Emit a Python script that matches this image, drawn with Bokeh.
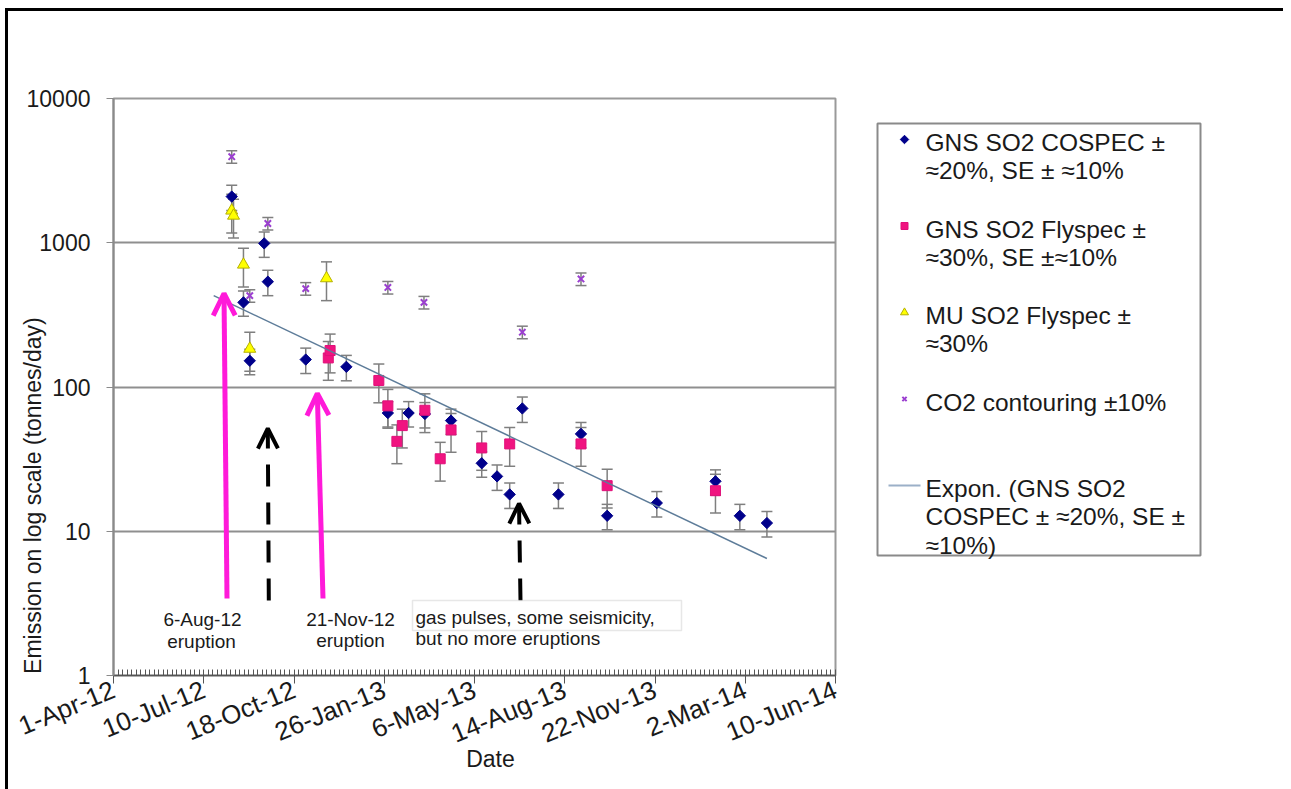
import math
import numpy as np
import pandas as pd
from bokeh.plotting import figure
from bokeh.layouts import row
from bokeh.models import (ColumnDataSource, Whisker, TeeHead, FixedTicker, Range1d,
                          Label, Arrow, OpenHead, BoxAnnotation)
from bokeh.core.properties import value
from bokeh.embed import file_html
from bokeh.resources import INLINE

# ---------------- data ----------------
BASE_DATE = "2012-04-01"

cospec_dates = ["2012-08-10", "2012-08-23", "2012-08-30", "2012-09-15", "2012-09-19", "2012-10-31",
                "2012-12-15", "2013-01-30", "2013-02-22", "2013-03-12", "2013-04-10", "2013-05-14",
                "2013-05-31", "2013-06-14", "2013-06-28", "2013-08-07", "2013-09-01", "2013-09-30",
                "2013-11-24", "2014-01-28", "2014-02-24", "2014-03-26"]
cospec_values = [2090, 386, 152, 990, 537, 155, 138, 66, 66, 65, 58.5, 29.6,
                 24, 18, 71, 18, 47.3, 12.8, 15.7, 22.2, 12.8, 11.4]

flyspec_dates = ["2012-11-25", "2012-11-27", "2013-01-20", "2013-01-30", "2013-02-09", "2013-02-15",
                 "2013-03-12", "2013-03-29", "2013-04-10", "2013-05-14", "2013-06-14", "2013-09-01",
                 "2013-09-30", "2014-01-28"]
flyspec_values = [159, 179, 111, 74, 42, 54, 69, 31.8, 50.4, 37.8, 40.3, 40.3, 20.7, 19.1]

mu_dates = ["2012-08-10", "2012-08-12", "2012-08-23", "2012-08-30", "2012-11-23"]
mu_values = [1670, 1540, 705, 184, 567]

co2_dates = ["2012-08-10", "2012-08-30", "2012-09-19", "2012-10-31", "2013-01-30", "2013-03-11",
             "2013-06-28", "2013-09-01"]
co2_values = [3950, 430, 1360, 481, 490, 386, 240, 561]

trend_dates = ["2012-07-21", "2014-03-26"]
trend_values = [430, 6.47]

cospec_err = 0.20
flyspec_err = 0.30
mu_err = 0.30
co2_err = 0.10

x_tick_labels = ["1-Apr-12", "10-Jul-12", "18-Oct-12", "26-Jan-13", "6-May-13",
                 "14-Aug-13", "22-Nov-13", "2-Mar-14", "10-Jun-14"]
y_ticks = [1, 10, 100, 1000, 10000]
y_tick_labels = ["1", "10", "100", "1000", "10000"]

x_title = "Date"
y_title = "Emission on log scale (tonnes/day)"

legend_lines = [
    ["GNS SO2 COSPEC \u00b1", "\u224820%, SE \u00b1 \u224810%"],
    ["GNS SO2 Flyspec \u00b1", "\u224830%, SE  \u00b1\u224810%"],
    ["MU SO2 Flyspec  \u00b1", "\u224830%"],
    ["CO2 contouring \u00b110%"],
    ["Expon. (GNS SO2", "COSPEC \u00b1 \u224820%, SE \u00b1", "\u224810%)"],
]

# ---------------- helpers ----------------
base = pd.Timestamp(BASE_DATE)


def to_days(dates):
    return np.array([(pd.Timestamp(d) - base).days for d in dates], dtype=float)


X_SPAN = 800
x_tick_days = list(range(0, X_SPAN + 1, 100))

# page-pixel geometry (used only to place annotations)
CANVAS_X, CANVAS_Y = 8, 11
FL, FR, FT, FB = 113, 835, 98, 675
TOTAL_H = 778
MAIN_W = 837
LEG_W = 438
BORDER_TOP = FT - CANVAS_Y
BORDER_BOTTOM = TOTAL_H - (FB - CANVAS_Y)
NBSP = "\u00a0"


def dx(px):
    return (px - FL) / (FR - FL) * X_SPAN


def dy(py):
    return 10 ** ((FB - py) / (FB - FT) * 4)


FONT = "Liberation Sans"
TXT = "#1a1a1a"
GREY = "#7f7f7f"

p = figure(output_backend="svg", toolbar_location=None, y_axis_type="log",
           x_range=(0, X_SPAN), y_range=(1, 10000),
           frame_width=FR - FL, frame_height=FB - FT,
           min_border_left=FL - CANVAS_X, min_border_top=BORDER_TOP,
           min_border_right=MAIN_W - (FR - CANVAS_X), min_border_bottom=BORDER_BOTTOM,
           background_fill_color="white", border_fill_color="white")

p.outline_line_color = "#9a9a9a"
p.outline_line_width = 2
p.xgrid.grid_line_color = None
p.ygrid.ticker = FixedTicker(ticks=y_ticks)
p.ygrid.grid_line_color = "#8f8f8f"
p.ygrid.grid_line_width = 2

# x axis
xa = p.xaxis[0]
xa.ticker = FixedTicker(ticks=x_tick_days, minor_ticks=list(range(0, X_SPAN + 1, 5)))
xa.major_label_overrides = {d: lab for d, lab in zip(x_tick_days, x_tick_labels)}
xa.major_label_orientation = 0.39
# leading no-break spaces nudge the centred title a little to the right, as in the reference
xa.axis_label = NBSP * 5 + x_title
xa.axis_label_text_font = FONT
xa.axis_label_text_font_style = "normal"
xa.axis_label_text_font_size = "23px"
xa.axis_label_text_color = TXT
xa.axis_label_standoff = -19
xa.major_label_text_font = FONT
xa.major_label_text_font_size = "26px"
xa.major_label_text_color = TXT
xa.axis_line_color = "#555555"
xa.axis_line_width = 1.5
xa.major_tick_line_color = "#555555"
xa.major_tick_out = 8
xa.major_tick_in = 0
xa.minor_tick_line_color = "#555555"
xa.minor_tick_in = 6
xa.minor_tick_out = 0

# y axis
ya = p.yaxis[0]
ya.ticker = FixedTicker(ticks=y_ticks)
ya.major_label_overrides = {t: lab for t, lab in zip(y_ticks, y_tick_labels)}
ya.major_label_text_font = FONT
ya.major_label_text_font_size = "23px"
ya.major_label_text_color = TXT
ya.major_label_standoff = 16
ya.axis_line_color = "#8a8a8a"
ya.axis_line_width = 2
ya.major_tick_line_color = "#8a8a8a"
ya.major_tick_out = 7
ya.major_tick_in = 0
ya.minor_tick_line_color = None
# trailing no-break spaces push the centred title down towards the lower part of the axis
ya.axis_label = y_title + NBSP * 34
ya.axis_label_text_font = FONT
ya.axis_label_text_font_style = "normal"
ya.axis_label_text_font_size = "23px"
ya.axis_label_text_color = TXT
ya.axis_label_standoff = -22

# ---------------- series ----------------
def make_source(dates, values, frac):
    v = np.array(values, dtype=float)
    return ColumnDataSource(dict(x=to_days(dates), y=v, upper=v * (1 + frac), lower=v * (1 - frac)))


STYLE_COSPEC = dict(marker="square", angle=math.pi / 4, fill_color="#00008b", line_color="#00008b")
STYLE_FLYSPEC = dict(marker="square", fill_color="#f01480", line_color="#e0107a")
STYLE_MU = dict(marker="triangle", fill_color="#ffff00", line_color="#b5b000")
STYLE_CO2 = dict(marker="x", line_width=2, line_color="#9b3fd0")
TREND_COLOR = "#5d7c99"

series = [
    (make_source(cospec_dates, cospec_values, cospec_err), STYLE_COSPEC, 8),
    (make_source(flyspec_dates, flyspec_values, flyspec_err), STYLE_FLYSPEC, 10),
    (make_source(mu_dates, mu_values, mu_err), STYLE_MU, 12),
    (make_source(co2_dates, co2_values, co2_err), STYLE_CO2, 9),
]

for src, style, size in series:
    p.add_layout(Whisker(source=src, base="x", upper="upper", lower="lower", dimension="height",
                         line_color=GREY, line_width=1.5,
                         upper_head=TeeHead(size=11, line_color=GREY, line_width=1.5),
                         lower_head=TeeHead(size=11, line_color=GREY, line_width=1.5)))
for src, style, size in series:
    p.scatter(x="x", y="y", source=src, size=size, **style)

trend_src = ColumnDataSource(dict(x=to_days(trend_dates), y=trend_values))
p.line(x="x", y="y", source=trend_src, line_color=TREND_COLOR, line_width=1.5)

# ---------------- arrows ----------------
MAGENTA = "#ff1ad9"
for (x0, y0, x1, y1) in [(226.5, 598, 223.5, 293), (322.5, 598, 316.8, 393)]:
    p.add_layout(Arrow(x_start=dx(x0), y_start=dy(y0), x_end=dx(x1), y_end=dy(y1),
                       line_color=MAGENTA, line_width=5,
                       end=OpenHead(size=22, line_color=MAGENTA, line_width=5)))
for (x0, y0, x1, y1) in [(268.3, 600, 267.3, 428), (520, 600, 518.5, 503)]:
    p.add_layout(Arrow(x_start=dx(x0), y_start=dy(y0), x_end=dx(x1), y_end=dy(y1),
                       line_color="black", line_width=4, line_dash="22 16",
                       end=OpenHead(size=20, line_color="black", line_width=4)))

# ---------------- text annotations ----------------
def add_label(text, px, py, size="19px", align="center"):
    p.add_layout(Label(x=dx(px), y=dy(py), text=text, text_font=FONT, text_font_size=size,
                       text_color=TXT, text_align=align, text_baseline="middle"))


add_label("6-Aug-12", 202, 619)
add_label("eruption", 201, 641)
add_label("21-Nov-12", 350, 619)
add_label("eruption", 350, 640)

p.add_layout(BoxAnnotation(left=dx(412), right=dx(681), top=dy(600), bottom=dy(630),
                           fill_color="white", fill_alpha=1, line_color="#b0b0b0", line_width=1.5))
add_label("gas pulses, some seismicity,", 415, 617, align="left")
add_label("but no more eruptions", 415, 638, align="left")

# ---------------- legend panel (separate figure in page-pixel coordinates, y downwards) ----------------
LEG_X0 = CANVAS_X + MAIN_W
q = figure(output_backend="svg", toolbar_location=None,
           frame_width=LEG_W, frame_height=FB - FT,
           x_range=Range1d(LEG_X0, LEG_X0 + LEG_W), y_range=Range1d(FB, FT),
           x_axis_location=None, y_axis_location=None,
           min_border_left=0, min_border_right=0,
           min_border_top=BORDER_TOP, min_border_bottom=BORDER_BOTTOM,
           background_fill_color="white", border_fill_color="white")
q.grid.visible = False
q.outline_line_color = None

q.quad(left=[877], right=[1200], top=[123], bottom=[555],
       fill_color=None, line_color="#8a8a8a", line_width=2)

LINE_PITCH = 28.3
ITEM_PITCH = 86.5
FIRST_LINE = 142
MARK_X = 904
legend_marks = [(STYLE_COSPEC, 6), (STYLE_FLYSPEC, 7), (STYLE_MU, 8), (STYLE_CO2, 6)]
for i, (style, size) in enumerate(legend_marks):
    q.scatter(x=[MARK_X], y=[FIRST_LINE - 3 + i * ITEM_PITCH], size=size, **style)
yl = FIRST_LINE - 3 + 4 * ITEM_PITCH
q.line(x=[888, 920], y=[yl, yl], line_color="#9bb0c8", line_width=2)

tx, ty, tt = [], [], []
for i, lines in enumerate(legend_lines):
    for j, t in enumerate(lines):
        tx.append(925)
        ty.append(FIRST_LINE + i * ITEM_PITCH + j * LINE_PITCH)
        tt.append(t)
q.text(x=tx, y=ty, text=tt, text_font=value(FONT), text_font_size="24.5px",
       text_color=TXT, text_align="left", text_baseline="middle")

layout = row(p, q, styles={"border-top": "3px solid black", "border-left": "3px solid black",
                           "margin-top": "8px", "margin-left": "5px"})

open("out.html", "w").write(file_html(layout, INLINE))
